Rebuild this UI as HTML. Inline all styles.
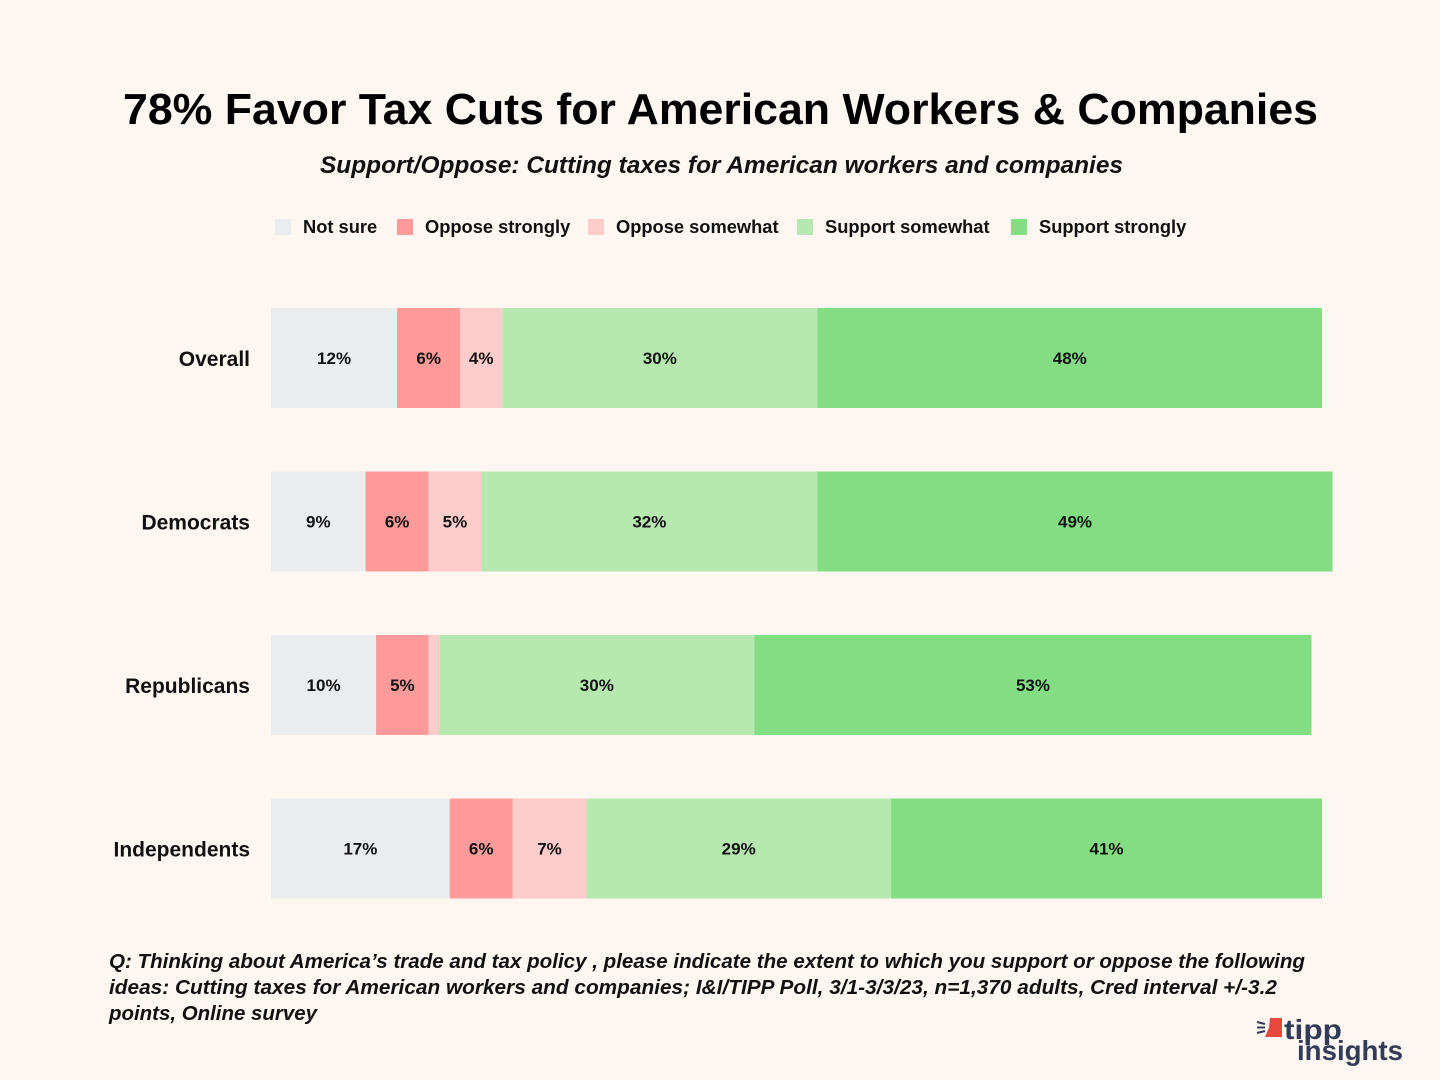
<!DOCTYPE html>
<html><head><meta charset="utf-8"><style>
body{margin:0;background:#fef6f0;}
svg{display:block;font-family:"Liberation Sans",sans-serif;}
</style></head><body>
<svg id="chart" width="1440" height="1080" viewBox="0 0 1440 1080">
<rect width="1440" height="1080" fill="#fef6f0"/>
<text x="123" y="124" font-size="44" font-weight="bold" fill="#000" textLength="1195" lengthAdjust="spacingAndGlyphs">78% Favor Tax Cuts for American Workers &amp; Companies</text>
<text x="320" y="173" font-size="24" font-style="italic" font-weight="bold" fill="#111" textLength="803" lengthAdjust="spacingAndGlyphs">Support/Oppose: Cutting taxes for American workers and companies</text>
<g id="legend"></g>
<g id="bars"></g>
<text font-size="20" font-style="italic" font-weight="bold" fill="#111">
<tspan x="109" y="968" textLength="1196" lengthAdjust="spacingAndGlyphs">Q:  Thinking about America’s trade and tax policy , please indicate the extent to which you support or oppose the following</tspan>
<tspan x="109" y="994" textLength="1168" lengthAdjust="spacingAndGlyphs">ideas: Cutting taxes for American workers and companies; I&amp;I/TIPP Poll, 3/1-3/3/23, n=1,370 adults, Cred interval +/-3.2</tspan>
<tspan x="109" y="1020" textLength="208" lengthAdjust="spacingAndGlyphs">points, Online survey</tspan>
</text>
<g>
<path d="M1270 1018 h12 v19 h-17 l4 -9.5 z" fill="#e8493f"/>
<line x1="1257" y1="1022" x2="1265" y2="1024" stroke="#333c57" stroke-width="2"/>
<line x1="1257" y1="1027.5" x2="1265" y2="1027.5" stroke="#333c57" stroke-width="2"/>
<line x1="1257" y1="1033" x2="1265" y2="1031" stroke="#333c57" stroke-width="2"/>
<text x="1284" y="1039" font-size="28" font-weight="bold" fill="#333c57" textLength="58" lengthAdjust="spacingAndGlyphs">tipp</text>
<text x="1297" y="1060" font-size="28" font-weight="bold" fill="#333c57" textLength="106" lengthAdjust="spacingAndGlyphs">insights</text>
</g>
</svg>
<script>
const groups = ["Overall","Democrats","Republicans","Independents"];
const seriesNames = ["Not sure","Oppose strongly","Oppose somewhat","Support somewhat","Support strongly"];
const notSure = [12,9,10,17];
const opposeStrongly = [6,6,5,6];
const opposeSomewhat = [4,5,1,7];
const supportSomewhat = [30,32,30,29];
const supportStrongly = [48,49,53,41];
const colors = ["#ebecee","#fe9a9a","#ffcccc","#b6e8b0","#83dd82"];
const NS="http://www.w3.org/2000/svg";
const x0=271, pxPer=10.51;
const xs = v => x0 + v*pxPer;
const bandTop = i => 308 + i*163.5;
const barH = 100;
const series=[notSure,opposeStrongly,opposeSomewhat,supportSomewhat,supportStrongly];
const bars=document.getElementById('bars');
function mk(tag,attrs,parent){const e=document.createElementNS(NS,tag);for(const k in attrs)e.setAttribute(k,attrs[k]);parent.appendChild(e);return e;}
groups.forEach((g,i)=>{
  const y=bandTop(i);
  const lab=mk('text',{x:250,y:y+barH/2+8,'text-anchor':'end','font-size':21,'font-weight':'bold',fill:'#111'},bars);
  lab.textContent=g;
  
  
  let cum=0;
  series.forEach((s,j)=>{
    const v=s[i];
    const r=mk('rect',{x:xs(cum),y:y,width:v*pxPer,height:barH,fill:colors[j]},bars);
    
    
    if(v>=3){
      const t=mk('text',{x:xs(cum+v/2),y:y+barH/2+6,'text-anchor':'middle','font-size':17,'font-weight':'bold',fill:'#111'},bars);
      t.textContent=v+'%';
      
      
    }
    cum+=v;
  });
});
const legend=document.getElementById('legend');
const legX=[275,397,588,797,1011];
seriesNames.forEach((n,j)=>{
  const r=mk('rect',{x:legX[j],y:219,width:16,height:16,fill:colors[j]},legend);
  
  
  const t=mk('text',{x:legX[j]+28,y:233,'font-size':18.3,'font-weight':'bold',fill:'#111'},legend);
  t.textContent=n;
  
  
});
</script>
</body></html>
